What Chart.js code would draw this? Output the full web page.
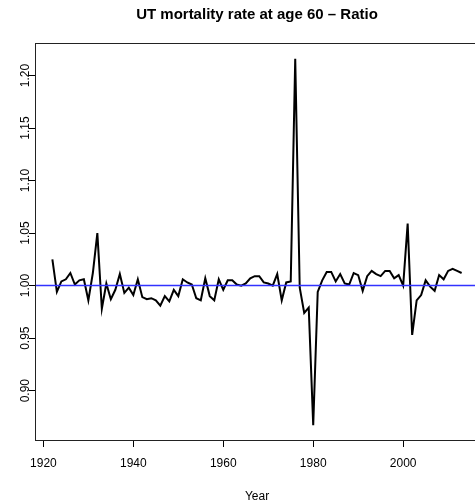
<!DOCTYPE html>
<html>
<head>
    <title>UT mortality rate at age 60 - Ratio</title>
    <script src="https://cdn.jsdelivr.net/npm/chart.js@4.4.1/dist/chart.umd.min.js"></script>
    <style>
        html, body { margin: 0; padding: 0; overflow: hidden; background: #fff; }
    </style>
</head>
<body>
    <canvas id="myChart" width="478" height="502"></canvas>

    <script>
        // Data
        var firstYear = 1922;
        var ratio = [
            1.025, 0.994, 1.004, 1.006, 1.012, 1.001, 1.005, 1.006, 0.986, 1.012,   // 1922-1931
            1.050, 0.978, 1.002, 0.987, 0.996, 1.011, 0.993, 0.998, 0.991, 1.006,   // 1932-1941
            0.989, 0.987, 0.988, 0.986, 0.981, 0.990, 0.985, 0.996, 0.990, 1.006,   // 1942-1951
            1.003, 1.001, 0.988, 0.986, 1.007, 0.990, 0.986, 1.006, 0.996, 1.005,   // 1952-1961
            1.005, 1.001, 1.000, 1.002, 1.007, 1.009, 1.009, 1.003, 1.002, 1.000,   // 1962-1971
            1.011, 0.986, 1.003, 1.004, 1.216, 0.998, 0.974, 0.979, 0.867, 0.994,   // 1972-1981
            1.005, 1.013, 1.013, 1.004, 1.011, 1.002, 1.001, 1.012, 1.010, 0.995,   // 1982-1991
            1.009, 1.014, 1.011, 1.009, 1.014, 1.014, 1.007, 1.010, 1.000, 1.059,   // 1992-2001
            0.953, 0.986, 0.991, 1.005, 0.999, 0.995, 1.010, 1.006, 1.014, 1.016,   // 2002-2011
            1.014, 1.012                                                            // 2012-2013
        ];
        var refLevel = 1;
        var xTicks = [1920, 1940, 1960, 1980, 2000];
        var yTicks = [0.90, 0.95, 1.00, 1.05, 1.10, 1.15, 1.20];

        var years = ratio.map(function (v, i) { return firstYear + i; });
        var points = ratio.map(function (v, i) { return { x: years[i], y: v }; });

        // R style axis limits: data range stretched by 4% each side
        var xPad = (years[years.length - 1] - years[0]) * 0.04;
        var xMin = years[0] - xPad, xMax = years[years.length - 1] + xPad;
        var yLo = Math.min.apply(null, ratio), yHi = Math.max.apply(null, ratio);
        var yPad = (yHi - yLo) * 0.04;
        var yMin = yLo - yPad, yMax = yHi + yPad;

        var font = 'Liberation Sans, Arial, Helvetica, sans-serif';

        // frame, title, rotated y labels and axis title in base R look
        var rStyle = {
            id: 'rStyle',
            afterDraw: function (chart) {
                var c = chart.ctx, a = chart.chartArea;
                c.save();
                c.strokeStyle = '#222';
                c.lineWidth = 1;
                c.strokeRect(Math.round(a.left) - 0.5, Math.round(a.top) - 0.5,
                    Math.round(a.right - a.left) + 1, Math.round(a.bottom - a.top) + 1);

                c.fillStyle = '#000';
                c.textAlign = 'center';
                c.textBaseline = 'alphabetic';
                c.font = 'bold 15px ' + font;
                c.fillText('UT mortality rate at age 60 \u2013 Ratio', 257, 19);

                c.font = '12px ' + font;
                c.fillText('Year', 257, 500);

                var ys = chart.scales.y;
                yTicks.forEach(function (v) {
                    c.save();
                    c.translate(28.5, ys.getPixelForValue(v));
                    c.rotate(-Math.PI / 2);
                    c.fillText(v.toFixed(2), 0, 0);
                    c.restore();
                });
                c.restore();
            }
        };

        var config = {
            type: 'line',
            data: {
                datasets: [{
                    label: 'reference',
                    data: [{ x: xMin, y: refLevel }, { x: xMax, y: refLevel }],
                    borderColor: 'rgb(50, 50, 255)',
                    borderWidth: 1.5,
                    pointRadius: 0
                }, {
                    label: 'ratio',
                    data: points,
                    borderColor: '#000',
                    borderWidth: 2,
                    pointRadius: 0,
                    tension: 0
                }]
            },
            options: {
                responsive: false,
                animation: false,
                devicePixelRatio: 1,
                layout: { padding: { top: 44, left: 0, right: 0, bottom: 0 } },
                plugins: {
                    legend: { display: false },
                    title: { display: false },
                    tooltip: { enabled: false }
                },
                scales: {
                    x: {
                        type: 'linear',
                        min: xMin,
                        max: xMax,
                        afterBuildTicks: function (s) { s.ticks = xTicks.map(function (v) { return { value: v }; }); },
                        afterFit: function (s) { s.height = 62; },
                        border: { display: false },
                        grid: { drawOnChartArea: false, drawTicks: true, tickLength: 7, color: '#000' },
                        ticks: {
                            color: '#000',
                            font: { family: font, size: 12 },
                            padding: 9,
                            maxRotation: 0,
                            callback: function (v) { return String(v); }
                        }
                    },
                    y: {
                        type: 'linear',
                        min: yMin,
                        max: yMax,
                        afterBuildTicks: function (s) { s.ticks = yTicks.map(function (v) { return { value: v }; }); },
                        afterFit: function (s) { s.width = 36; },
                        border: { display: false },
                        grid: { drawOnChartArea: false, drawTicks: true, tickLength: 7, color: '#000' },
                        ticks: { display: false }
                    }
                }
            },
            plugins: [rStyle]
        };

        var ctx = document.getElementById('myChart').getContext('2d');
        var chart = new Chart(ctx, config);
    </script>
</body>
</html>
